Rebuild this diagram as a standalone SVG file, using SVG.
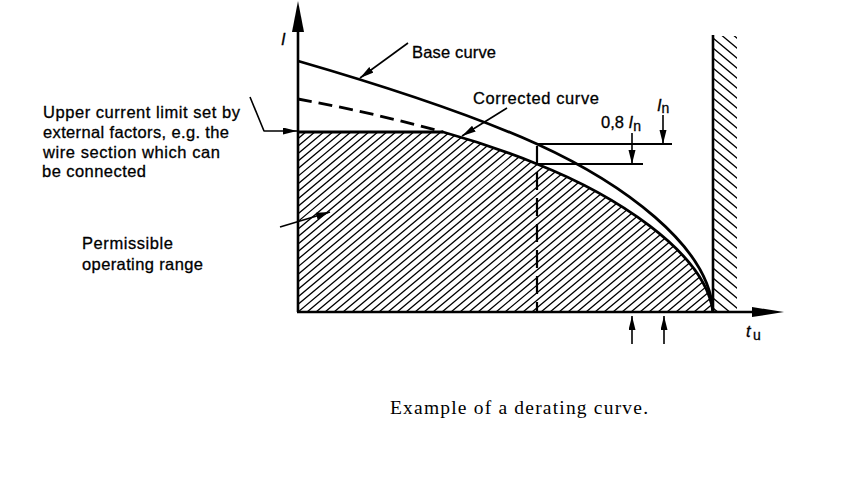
<svg xmlns="http://www.w3.org/2000/svg" width="852" height="489" viewBox="0 0 852 489">
<style>
.ln{fill:none;stroke:#000;stroke-linecap:butt;stroke-linejoin:round}
.ax{stroke-width:2.6}
.cv{stroke-width:2.8}
.ref{stroke-width:1.8}
.ld{stroke-width:1.6}
.hz{fill:none;stroke:#000;stroke-width:1.3}
.t{font-family:"Liberation Sans",Arial,sans-serif;font-size:16.5px;fill:#000;stroke:#000;stroke-width:0.3}
.ti{font-family:"Liberation Sans",Arial,sans-serif;font-size:16.5px;font-style:italic;fill:#000;stroke:#000;stroke-width:0.3}
.sub{font-family:"Liberation Sans",Arial,sans-serif;font-size:14px;font-style:normal;fill:#000;stroke:#000;stroke-width:0.3}
.cap{font-family:"Liberation Serif","Times New Roman",serif;font-size:19.5px;fill:#000}
</style>
<defs>
<marker id="arr" markerUnits="userSpaceOnUse" markerWidth="15" markerHeight="8" refX="14" refY="3.5" orient="auto">
<path d="M0,0 L14,3.5 L0,7 Z" fill="#000"/>
</marker>
<clipPath id="clipRange">
<path d="M298,132 L443,132 Q490,145 537,164 C610,193 705,250 713,312 L298,312 Z"/>
</clipPath>
<clipPath id="clipWall">
<rect x="714" y="36" width="23" height="276"/>
</clipPath>
</defs>
<rect width="852" height="489" fill="#fff"/>

<g id="operating-range">
<path class="hz" clip-path="url(#clipRange)" d="M82,312l216,-181M91,312l216,-181M100,312l216,-181M109,312l216,-181M118,312l216,-181M127,312l216,-181M136,312l216,-181M145,312l216,-181M154,312l216,-181M163,312l216,-181M172,312l216,-181M181,312l216,-181M190,312l216,-181M199,312l216,-181M208,312l216,-181M217,312l216,-181M226,312l216,-181M235,312l216,-181M244,312l216,-181M253,312l216,-181M262,312l216,-181M271,312l216,-181M280,312l216,-181M289,312l216,-181M298,312l216,-181M307,312l216,-181M316,312l216,-181M325,312l216,-181M334,312l216,-181M343,312l216,-181M352,312l216,-181M361,312l216,-181M370,312l216,-181M379,312l216,-181M388,312l216,-181M397,312l216,-181M406,312l216,-181M415,312l216,-181M424,312l216,-181M433,312l216,-181M442,312l216,-181M451,312l216,-181M460,312l216,-181M469,312l216,-181M478,312l216,-181M487,312l216,-181M496,312l216,-181M505,312l216,-181M514,312l216,-181M523,312l216,-181M532,312l216,-181M541,312l216,-181M550,312l216,-181M559,312l216,-181M568,312l216,-181M577,312l216,-181M586,312l216,-181M595,312l216,-181M604,312l216,-181M613,312l216,-181M622,312l216,-181M631,312l216,-181M640,312l216,-181M649,312l216,-181M658,312l216,-181M667,312l216,-181M676,312l216,-181M685,312l216,-181M694,312l216,-181M703,312l216,-181M712,312l216,-181"/>
</g>

<g id="wall">
<path class="hz" clip-path="url(#clipWall)" d="M713,18l25,21M713,28l25,21M713,38l25,21M713,48l25,21M713,58l25,21M713,68l25,21M713,78l25,21M713,88l25,21M713,98l25,21M713,108l25,21M713,118l25,21M713,128l25,21M713,138l25,21M713,148l25,21M713,158l25,21M713,168l25,21M713,178l25,21M713,188l25,21M713,198l25,21M713,208l25,21M713,218l25,21M713,228l25,21M713,238l25,21M713,248l25,21M713,258l25,21M713,268l25,21M713,278l25,21M713,288l25,21M713,298l25,21M713,308l25,21"/>
<line class="ln ax" x1="713" y1="35" x2="713" y2="312"/>
</g>

<g id="axes">
<line class="ln ax" x1="298" y1="312" x2="298" y2="28"/>
<polygon points="298,1 292,32 304,32" fill="#000"/>
<line class="ln ax" x1="297" y1="312" x2="756" y2="312"/>
<polygon points="784,312 752,307 752,317" fill="#000"/>
<text class="ti" x="281" y="45">I</text>
<text class="ti" x="746" y="337">t</text>
<text class="sub" x="753" y="340">u</text>
</g>

<g id="base-curve">
<path class="ln cv" d="M298,61 Q450,105 537,144 C620,182 710,245 713,312"/>
</g>

<g id="corrected-curve">
<path class="ln cv" d="M298,132 L443,132 Q490,145 537,164 C610,193 705,250 713,312"/>
<path class="ln cv" d="M298,99 Q370,112 443,132" stroke-dasharray="14 7"/>
<line class="ln" x1="537" y1="146" x2="537" y2="312" stroke-width="2.2" stroke-dasharray="18 8"/>
</g>

<g id="reference-lines">
<line class="ln ref" x1="537" y1="144" x2="672" y2="144"/>
<line class="ln ref" x1="537" y1="164" x2="643" y2="164"/>
</g>

<g id="connectors">
<line class="ln ld" x1="408" y1="43" x2="360" y2="78" marker-end="url(#arr)"/>
<line class="ln ld" x1="507" y1="108" x2="462" y2="136" marker-end="url(#arr)"/>
<polyline class="ln ld" points="250,97 264,131 297,131" marker-end="url(#arr)"/>
<line class="ln ld" x1="280" y1="227" x2="330" y2="212" marker-end="url(#arr)"/>
<line class="ln ld" x1="663" y1="115" x2="663" y2="144" marker-end="url(#arr)"/>
<line class="ln ld" x1="632" y1="133" x2="632" y2="164" marker-end="url(#arr)"/>
<line class="ln ld" x1="632" y1="344" x2="632" y2="316" marker-end="url(#arr)"/>
<line class="ln ld" x1="664" y1="344" x2="664" y2="316" marker-end="url(#arr)"/>
</g>

<g id="labels">
<text class="t" x="412" y="58" textLength="84" lengthAdjust="spacing">Base curve</text>
<text class="t" x="473" y="104" textLength="126" lengthAdjust="spacing">Corrected curve</text>
<text class="t" x="601" y="128">0,8 <tspan class="ti">I</tspan><tspan class="sub" dy="3">n</tspan></text>
<text class="ti" x="657" y="111">I<tspan class="sub" dy="2">n</tspan></text>
<text class="t" x="43" y="118" textLength="197" lengthAdjust="spacing">Upper current limit set by</text>
<text class="t" x="43" y="138" textLength="186" lengthAdjust="spacing">external factors, e.g. the</text>
<text class="t" x="43" y="158" textLength="177" lengthAdjust="spacing">wire section which can</text>
<text class="t" x="42" y="177" textLength="104" lengthAdjust="spacing">be connected</text>
<text class="t" x="82" y="249" textLength="91" lengthAdjust="spacing">Permissible</text>
<text class="t" x="82" y="270" textLength="121" lengthAdjust="spacing">operating range</text>
</g>

<g id="caption">
<text class="cap" x="390" y="414" textLength="258" lengthAdjust="spacing">Example of a derating curve.</text>
</g>
</svg>
